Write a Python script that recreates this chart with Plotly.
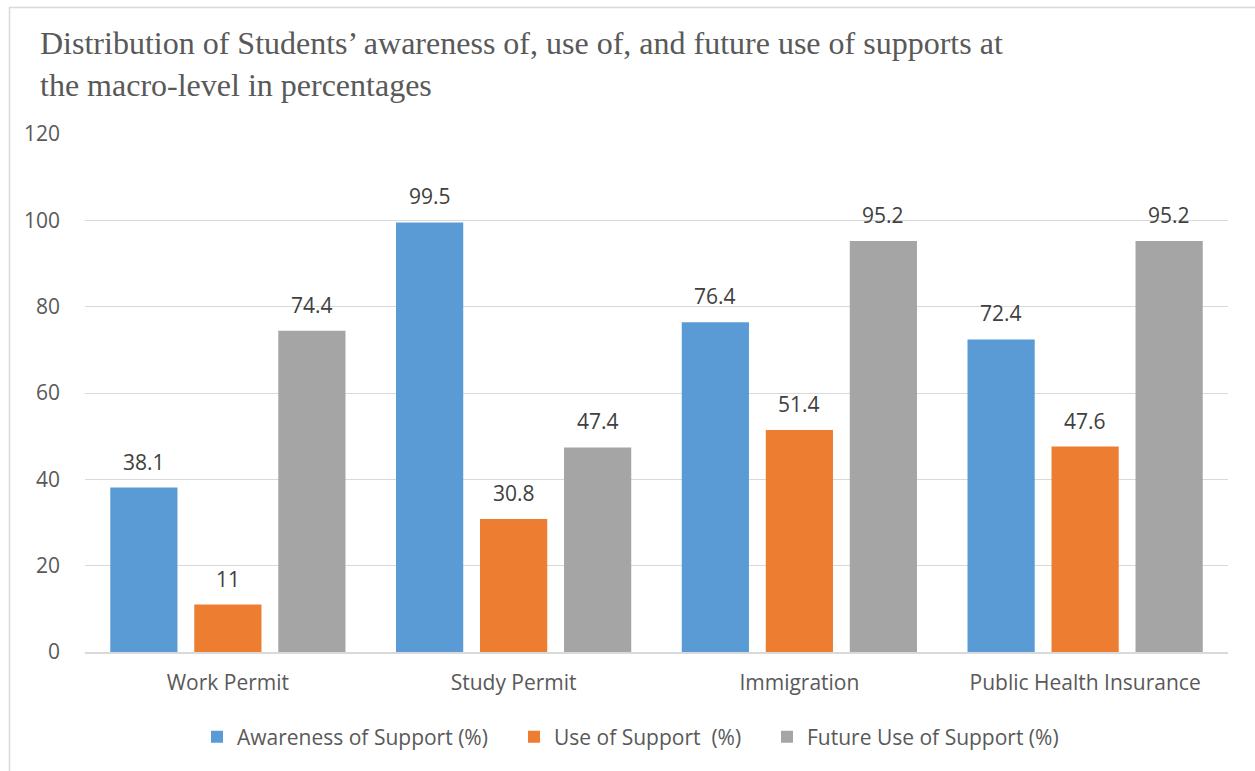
import plotly.graph_objects as go

# Support categories at the macro level
categories = ["Work Permit", "Study Permit", "Immigration", "Public Health Insurance"]

# Percentages per series
awareness = [38.1, 99.5, 76.4, 72.4]
use_now = [11, 30.8, 51.4, 47.6]
future_use = [74.4, 47.4, 95.2, 95.2]

series_names = ["Awareness of Support (%)", "Use of Support  (%)", "Future Use of Support (%)"]
series_values = [awareness, use_now, future_use]
series_colors = ["#5B9BD5", "#ED7D31", "#A5A5A5"]

y_ticks = [0, 20, 40, 60, 80, 100, 120]

title_text = ("Distribution of Students\u2019 awareness of, use of, and future use of supports at"
              "<br>the macro-level in percentages")

W, H = 1255, 771
ML, MR, MT, MB = 85, 27, 134, 119
plot_w = W - ML - MR
plot_h = H - MT - MB

# Each series gets its own legend box, laid out left to right along the bottom
legend_ids = ["legend", "legend2", "legend3"]
legend_left_px = [197, 514, 767]

fig = go.Figure()
for name, vals, col, lid in zip(series_names, series_values, series_colors, legend_ids):
    fig.add_trace(go.Bar(
        x=categories, y=vals, name=name, legend=lid, showlegend=True,
        marker=dict(color=col, line=dict(width=0)),
        hoverinfo="x+y+name",
    ))

# Value labels above each bar, shifted to the bar's slot within the group
slot_px = plot_w / len(categories) * (1 - 0.118) / len(series_names)
annotations = []
for i, vals in enumerate(series_values):
    shift = (i - 1) * slot_px
    for cat, v in zip(categories, vals):
        annotations.append(dict(
            x=cat, y=v, xref="x", yref="y", text=f"{v:g}", showarrow=False,
            xshift=shift, yshift=26, yanchor="middle", xanchor="center",
            font=dict(family="Open Sans, sans-serif", size=21, color="#404040"),
        ))

annotations.append(dict(
    x=(38 - ML) / plot_w, y=(H - MB - 23) / plot_h, xref="paper", yref="paper",
    text=title_text, showarrow=False, xanchor="left", yanchor="top", align="left",
    font=dict(family="Liberation Serif, Times New Roman, serif", size=32, color="#595959"),
))

# Chart frame (left and top edges visible)
frame = dict(
    type="rect", xref="paper", yref="paper", layer="below",
    x0=(9.5 - ML) / plot_w, x1=(W + 20 - ML) / plot_w,
    y0=(-(MB + 20)) / plot_h, y1=(H - MB - 7.5) / plot_h,
    line=dict(color="#D9D9D9", width=1.5), fillcolor="rgba(0,0,0,0)",
)

legend_style = dict(
    orientation="h", xanchor="left", y=(H - MB - 737) / plot_h, yanchor="middle",
    font=dict(size=21, color="#595959"), itemwidth=30, bgcolor="rgba(0,0,0,0)",
)

fig.update_layout(
    width=W, height=H,
    margin=dict(l=ML, r=MR, t=MT, b=MB, pad=0),
    paper_bgcolor="white", plot_bgcolor="white",
    showlegend=True,
    barmode="group", bargap=0.118, bargroupgap=0.2,
    font=dict(family="Open Sans, sans-serif", size=21, color="#595959"),
    xaxis=dict(
        showgrid=False, ticks="", showline=True, linecolor="#D9D9D9", linewidth=2,
        tickfont=dict(size=21, color="#595959"), zeroline=False, ticklabelstandoff=11,
    ),
    yaxis=dict(
        range=[0, 120], tickvals=y_ticks, showgrid=True, gridcolor="#D9D9D9", gridwidth=1,
        zeroline=False, showline=False, ticks="", ticklabelstandoff=24,
        tickfont=dict(size=21, color="#595959"),
    ),
    annotations=annotations,
    shapes=[frame],
)
for lid, px in zip(legend_ids, legend_left_px):
    fig.update_layout({lid: dict(legend_style, x=(px - ML) / plot_w)})

fig.write_html("out.html")
